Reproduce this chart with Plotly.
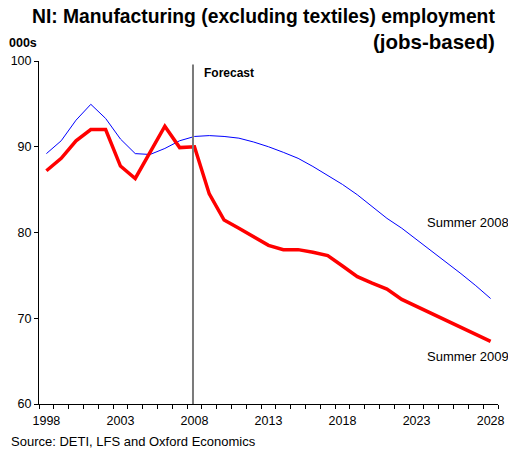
import plotly.graph_objects as go

# Years on the horizontal axis
years = list(range(1998, 2029))

# Employment, thousands of jobs
summer_2008 = [89.2, 90.7, 93.1, 94.95, 93.3, 90.9, 89.2, 89.1, 89.8, 90.7,
               91.2, 91.3, 91.2, 91.0, 90.55, 90.0, 89.35, 88.65, 87.7, 86.7,
               85.6, 84.4, 83.0, 81.65, 80.5, 79.2, 77.8, 76.6, 75.2, 73.8, 72.3]
summer_2009 = [87.2, 88.65, 90.7, 92.0, 92.0, 87.75, 86.3, 89.4, 92.4, 89.9,
               90.0, 84.5, 81.45, 80.5, 79.5, 78.5, 78.0, 78.0, 77.7, 77.3,
               76.1, 74.85, 74.1, 73.4, 72.2, 71.4, 70.6, 69.7, 68.9, 68.2, 67.3]

x_tick_labels = [1998, 2003, 2008, 2013, 2018, 2023, 2028]
y_ticks = [60, 70, 80, 90, 100]
forecast_start = 2007.9

FONT = "Arial, Liberation Sans, sans-serif"

# Plot-area geometry in page pixels, used to place the free text
L, R, T, B, W, H = 39, 10, 61, 50, 508, 454
PW, PH = W - L - R, H - T - B


def px(x):
    return (x - L) / PW


def py(y):
    return (H - B - y) / PH


fig = go.Figure()
fig.add_trace(go.Scatter(x=years, y=summer_2008, mode="lines",
                         line=dict(color="#0000FF", width=1), name="Summer 2008"))
fig.add_trace(go.Scatter(x=years, y=summer_2009, mode="lines",
                         line=dict(color="#FF0000", width=3.5), name="Summer 2009"))

fig.add_shape(type="line", xref="x", yref="paper", x0=forecast_start, x1=forecast_start,
              y0=0, y1=0.99, line=dict(color="#7a7a7a", width=2))

annotations = [
    dict(text="<b>NI: Manufacturing (excluding textiles) employment</b>",
         x=px(497), y=py(17), xanchor="right", yanchor="middle", font=dict(size=19.3)),
    dict(text="<b>(jobs-based)</b>",
         x=px(497), y=py(42), xanchor="right", yanchor="middle", font=dict(size=20.5)),
    dict(text="<b>000s</b>", x=px(7), y=py(43), xanchor="left", yanchor="middle",
         font=dict(size=12.5)),
    dict(text="<b>Forecast</b>", x=px(202), y=py(73), xanchor="left", yanchor="middle",
         font=dict(size=12)),
    dict(text="Summer 2008", x=px(425), y=py(223), xanchor="left", yanchor="middle",
         font=dict(size=13)),
    dict(text="Summer 2009", x=px(425), y=py(356), xanchor="left", yanchor="middle",
         font=dict(size=13)),
    dict(text="Source: DETI, LFS and Oxford Economics", x=px(9), y=py(441.5),
         xanchor="left", yanchor="middle", font=dict(size=13)),
]
for a in annotations:
    a.update(xref="paper", yref="paper", showarrow=False)
    a["font"].update(family=FONT, color="black")
fig.update_layout(annotations=annotations)

fig.update_layout(
    width=W, height=H,
    margin=dict(l=L, r=R, t=T, b=B, pad=0, autoexpand=False),
    paper_bgcolor="white", plot_bgcolor="white",
    showlegend=False,
    font=dict(family=FONT, size=12, color="black"),
    xaxis=dict(range=[1997.5, 2028.5], tickvals=x_tick_labels, ticks="outside",
               ticklen=5, tickcolor="rgba(0,0,0,0)", automargin=False,
               minor=dict(tick0=1997.5, dtick=1, ticks="outside", ticklen=4,
                          tickcolor="black", showgrid=False),
               showline=True, linecolor="black", linewidth=1, showgrid=False,
               zeroline=False, tickfont=dict(size=12.5)),
    yaxis=dict(range=[60, 100], tickvals=y_ticks, ticks="outside", ticklen=4,
               tickcolor="black", showline=True, linecolor="black", linewidth=1,
               showgrid=False, zeroline=False, automargin=False,
               tickfont=dict(size=12.5)),
)

fig.write_html("out.html")
